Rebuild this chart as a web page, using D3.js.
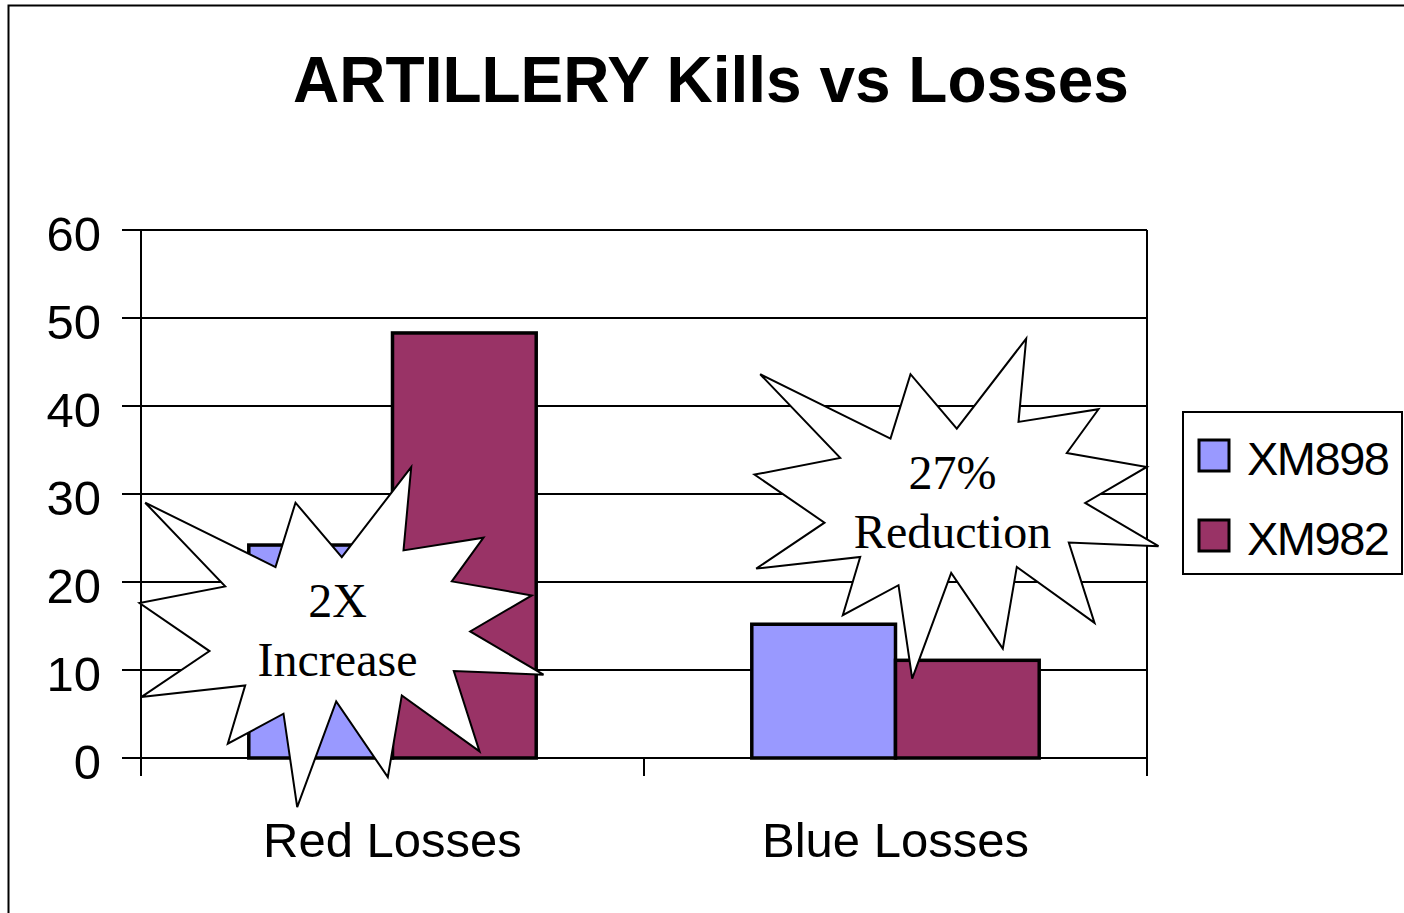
<!DOCTYPE html>
<html>
<head>
<meta charset="utf-8">
<script src="https://cdn.jsdelivr.net/npm/d3@7"></script>
<style>
  body { margin: 0; background: #fff; }
  text { font-family: "Liberation Sans", Arial, sans-serif; }
  .callout text { font-family: "Liberation Serif", "Times New Roman", serif; }
</style>
</head>
<body>
<div id="chart"></div>
<script>
// Chart data
const categories = ['Red Losses', 'Blue Losses'];
const seriesNames = ['XM898', 'XM982'];
const xm898Values = [24.2, 15.2];
const xm982Values = [48.3, 11.1];
const yTicks = [0, 10, 20, 30, 40, 50, 60];
const seriesColors = ['#9999FF', '#993366'];

// Callout annotations (anchored to a category and a y value)
const calloutCategories = ['Red Losses', 'Blue Losses'];
const calloutValues = [14.5, 29.1];
const calloutLines = [['2X', 'Increase'], ['27%', 'Reduction']];

// Dimensions
const width = 1404;
const height = 913;
const plot = { left: 141, right: 1147, top: 230, bottom: 758 };

const svg = d3.select('#chart')
    .append('svg')
    .attr('width', width)
    .attr('height', height);

// Outer frame
svg.append('rect')
    .attr('x', 8.5).attr('y', 5.5)
    .attr('width', 1400).attr('height', 920)
    .attr('fill', 'none')
    .attr('stroke', '#000')
    .attr('stroke-width', 2);

// Title
svg.append('text')
    .attr('x', 711)
    .attr('y', 102)
    .attr('text-anchor', 'middle')
    .attr('font-size', 64)
    .attr('font-weight', 'bold')
    .text('ARTILLERY Kills vs Losses');

// Scales
const y = d3.scaleLinear().domain([0, 60]).range([plot.bottom, plot.top]);
const x0 = d3.scaleBand()
    .domain(categories)
    .range([plot.left, plot.right])
    .paddingInner(3 / 7)
    .paddingOuter(3 / 14);
const x1 = d3.scaleBand()
    .domain(seriesNames)
    .range([0, x0.bandwidth()]);
const color = d3.scaleOrdinal().domain(seriesNames).range(seriesColors);

// Gridlines + y ticks
svg.append('g')
    .selectAll('line')
    .data(yTicks)
    .enter()
    .append('line')
    .attr('x1', plot.left - 19)
    .attr('x2', plot.right)
    .attr('y1', d => y(d))
    .attr('y2', d => y(d))
    .attr('stroke', '#000')
    .attr('stroke-width', 2);

// y labels
svg.append('g')
    .selectAll('text')
    .data(yTicks)
    .enter()
    .append('text')
    .attr('x', 101)
    .attr('y', d => y(d) + 21)
    .attr('text-anchor', 'end')
    .attr('font-size', 49)
    .text(d => d);

// Plot border lines (left axis, right edge)
[plot.left, plot.right].forEach(px => {
    svg.append('line')
        .attr('x1', px).attr('x2', px)
        .attr('y1', plot.top).attr('y2', plot.bottom)
        .attr('stroke', '#000')
        .attr('stroke-width', 2);
});

// x ticks at category boundaries
const xTickPos = [plot.left].concat(categories.map(c => x0(c) - x0.step() * x0.paddingInner() / 2 + x0.step()));
xTickPos[xTickPos.length - 1] = plot.right;
svg.append('g')
    .selectAll('line')
    .data(xTickPos)
    .enter()
    .append('line')
    .attr('x1', d => d).attr('x2', d => d)
    .attr('y1', plot.bottom).attr('y2', plot.bottom + 18)
    .attr('stroke', '#000')
    .attr('stroke-width', 2);

// x labels
svg.append('g')
    .selectAll('text')
    .data(categories)
    .enter()
    .append('text')
    .attr('x', d => x0(d) + x0.bandwidth() / 2)
    .attr('y', 857)
    .attr('text-anchor', 'middle')
    .attr('font-size', 49)
    .text(d => d);

// Bars
const barData = categories.map((c, i) => ({
    category: c,
    values: [
        { series: 'XM898', value: xm898Values[i] },
        { series: 'XM982', value: xm982Values[i] }
    ]
}));

svg.append('g')
    .selectAll('g')
    .data(barData)
    .enter()
    .append('g')
    .attr('transform', d => `translate(${x0(d.category)},0)`)
    .selectAll('rect')
    .data(d => d.values)
    .enter()
    .append('rect')
    .attr('x', d => x1(d.series))
    .attr('y', d => y(d.value))
    .attr('width', x1.bandwidth())
    .attr('height', d => y(0) - y(d.value))
    .attr('fill', d => color(d.series))
    .attr('stroke', '#000')
    .attr('stroke-width', 3.5);

// Starburst shape (offsets from its centre)
const starShape = [
    [73.7, -163.3], [66, -80], [146, -92.7], [114.3, -49], [194.3, -35], [132.7, 1],
    [206, 44.3], [116.3, 40.7], [142, 121], [64.3, 65], [50.3, 146.7], [-1.3, 71],
    [-40.3, 176.7], [-54, 83.3], [-109.7, 113.3], [-92.3, 55], [-196.3, 66.7], [-128, 20.7],
    [-198, -27.3], [-112.3, -44], [-192.3, -127.7], [-62, -63.3], [-42, -127.7], [4.3, -73.3]
];
const calloutShift = [-55, 57];

const callouts = svg.append('g')
    .attr('class', 'callout')
    .selectAll('g')
    .data(calloutCategories.map((c, i) => ({ c, v: calloutValues[i], lines: calloutLines[i], dx: calloutShift[i] })))
    .enter()
    .append('g')
    .attr('transform', d => `translate(${x0(d.c) + x0.bandwidth() / 2 + d.dx},${y(d.v)})`);

callouts.append('polygon')
    .attr('points', starShape.map(p => p.join(',')).join(' '))
    .attr('fill', '#fff')
    .attr('stroke', '#000')
    .attr('stroke-width', 2)
    .attr('stroke-linejoin', 'miter');

callouts.append('text')
    .attr('x', 0)
    .attr('y', -13)
    .attr('text-anchor', 'middle')
    .attr('font-size', 48)
    .text(d => d.lines[0]);

callouts.append('text')
    .attr('x', 0)
    .attr('y', 46)
    .attr('text-anchor', 'middle')
    .attr('font-size', 48)
    .text(d => d.lines[1]);

// Legend
const legend = svg.append('g');
legend.append('rect')
    .attr('x', 1183).attr('y', 412)
    .attr('width', 219).attr('height', 162)
    .attr('fill', '#fff')
    .attr('stroke', '#000')
    .attr('stroke-width', 2);

const legendItems = legend.selectAll('g.item')
    .data(seriesNames)
    .enter()
    .append('g')
    .attr('class', 'item')
    .attr('transform', (d, i) => `translate(1199,${440 + i * 80})`);

legendItems.append('rect')
    .attr('width', 30).attr('height', 31)
    .attr('fill', d => color(d))
    .attr('stroke', '#000')
    .attr('stroke-width', 3);

legendItems.append('text')
    .attr('x', 48)
    .attr('y', 35)
    .attr('font-size', 47)
    .attr('letter-spacing', -1.5)
    .text(d => d);
</script>
</body>
</html>
